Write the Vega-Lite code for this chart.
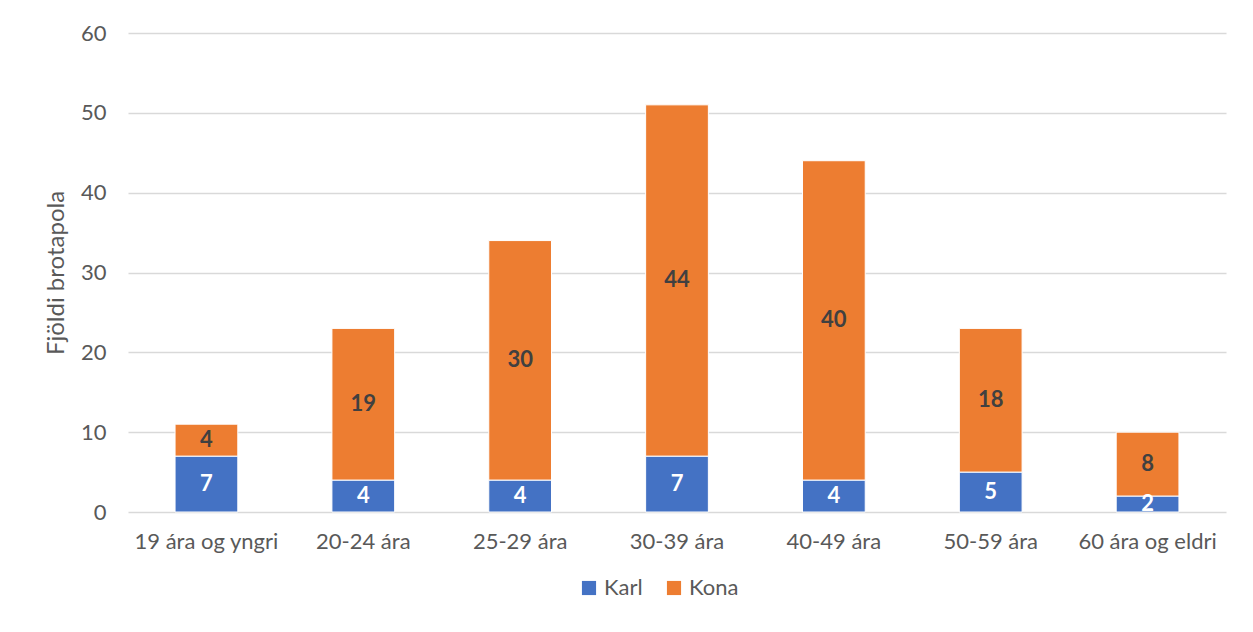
{
  "$schema": "https://vega.github.io/schema/vega-lite/v6.json",
  "width": 1098,
  "height": 479,
  "autosize": {"type": "none"},
  "padding": {"left": 128, "top": 33, "right": 27, "bottom": 120},
  "background": "white",
  "config": {
    "font": "Lato",
    "view": {"stroke": null},
    "axis": {"labelFont": "Lato", "titleFont": "Lato", "labelColor": "#595959", "titleColor": "#595959"},
    "legend": {"labelFont": "Lato"}
  },
  "data": {
    "values": [
      {"age": "19 ára og yngri", "sex": "Karl", "n": 7},
      {"age": "19 ára og yngri", "sex": "Kona", "n": 4},
      {"age": "20-24 ára", "sex": "Karl", "n": 4},
      {"age": "20-24 ára", "sex": "Kona", "n": 19},
      {"age": "25-29 ára", "sex": "Karl", "n": 4},
      {"age": "25-29 ára", "sex": "Kona", "n": 30},
      {"age": "30-39 ára", "sex": "Karl", "n": 7},
      {"age": "30-39 ára", "sex": "Kona", "n": 44},
      {"age": "40-49 ára", "sex": "Karl", "n": 4},
      {"age": "40-49 ára", "sex": "Kona", "n": 40},
      {"age": "50-59 ára", "sex": "Karl", "n": 5},
      {"age": "50-59 ára", "sex": "Kona", "n": 18},
      {"age": "60 ára og eldri", "sex": "Karl", "n": 2},
      {"age": "60 ára og eldri", "sex": "Kona", "n": 8}
    ]
  },
  "encoding": {
    "x": {
      "field": "age", "type": "nominal", "sort": null,
      "scale": {"paddingInner": 0.6, "paddingOuter": 0.3},
      "axis": {"title": null, "labelAngle": 0, "labelFontSize": 22, "labelPadding": 19, "ticks": false, "domain": false}
    }
  },
  "layer": [
    {
      "mark": {"type": "bar", "stroke": "white", "strokeWidth": 1},
      "encoding": {
        "y": {
          "field": "n", "type": "quantitative", "stack": "zero",
          "scale": {"domain": [0, 60]},
          "axis": {"title": "Fjöldi brotapola", "titleFontSize": 24, "titleFontWeight": "normal", "titlePadding": 12,
                   "values": [0,10,20,30,40,50,60], "labelFontSize": 22, "labelPadding": 22,
                   "ticks": false, "domain": false, "gridColor": "#d9d9d9", "gridWidth": 1.5}
        },
        "color": {
          "field": "sex", "type": "nominal",
          "scale": {"domain": ["Karl", "Kona"], "range": ["#4472C4", "#ED7D31"]},
          "legend": {"title": null, "orient": "none", "legendX": 450, "legendY": 544, "direction": "horizontal", "symbolType": "square",
                     "symbolSize": 200, "symbolStrokeWidth": 0, "labelFontSize": 22, "labelColor": "#595959",
                     "columnPadding": 20}
        },
        "order": {"field": "sex"}
      }
    },
    {
      "mark": {"type": "text", "fontSize": 22, "fontWeight": "bold"},
      "encoding": {
        "y": {"field": "n", "type": "quantitative", "stack": "zero", "bandPosition": 0.5,
              "axis": {"title": "Fjöldi brotapola", "titleFontSize": 24, "titleFontWeight": "normal", "titlePadding": 12,
                   "values": [0,10,20,30,40,50,60], "labelFontSize": 22, "labelPadding": 22,
                   "ticks": false, "domain": false, "gridColor": "#d9d9d9", "gridWidth": 1.5}},
        "text": {"field": "n", "type": "quantitative"},
        "color": {"condition": {"test": "datum.sex === 'Karl'", "value": "white"}, "value": "#404040"},
        "order": {"field": "sex"}
      }
    }
  ]
}
